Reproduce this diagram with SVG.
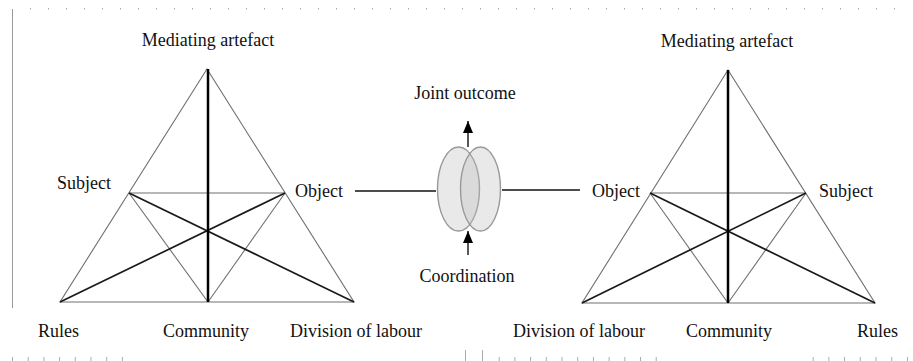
<svg xmlns="http://www.w3.org/2000/svg" width="913" height="361" viewBox="0 0 913 361">
<defs>
<style>
text{font-family:"Liberation Serif","Times New Roman",serif;font-size:18px;fill:#111}
.mid{text-anchor:middle}
.thin{stroke:#707070;stroke-width:1.1;fill:none}
.bold{stroke:#1a1a1a;stroke-width:1.7;fill:none}
.axis{stroke:#000;stroke-width:2.5;fill:none}
.conn{stroke:#111;stroke-width:1.4;fill:none}
.ell{fill:#bbb;fill-opacity:0.33;stroke:#999;stroke-width:1.4}
</style>
<marker id="arr" viewBox="0 0 12 10" refX="12" refY="5" markerWidth="12" markerHeight="10" markerUnits="userSpaceOnUse" orient="auto">
<path d="M0,0 L12,5 L0,10 z" fill="#000"/>
</marker>
<pattern id="topdots" x="30" y="0" width="18" height="20" patternUnits="userSpaceOnUse">
<rect x="0" y="8" width="1" height="1.5" fill="#aaa"/>
</pattern>
<pattern id="botticks" x="12" y="0" width="15.7" height="361" patternUnits="userSpaceOnUse">
<rect x="0" y="357" width="1" height="4" fill="#aaa"/>
</pattern>
</defs>
<rect width="913" height="361" fill="#fff"/>
<g id="page-marks">
<rect x="28" y="0" width="880" height="20" fill="url(#topdots)"/>
<rect x="10" y="350" width="120" height="11" fill="url(#botticks)"/>
<rect x="498" y="350" width="160" height="11" fill="url(#botticks)"/>
<rect x="805" y="350" width="108" height="11" fill="url(#botticks)"/>
<line x1="12.5" y1="9" x2="12.5" y2="308" stroke="#999" stroke-width="1"/>
<line x1="465.5" y1="350" x2="465.5" y2="361" stroke="#aaa" stroke-width="1"/>
<line x1="482.5" y1="350" x2="482.5" y2="361" stroke="#aaa" stroke-width="1"/>
</g>
<g id="left-triangle">
<polygon class="thin" points="207,69 60,302 354,302"/>
<line class="thin" x1="129" y1="193" x2="285" y2="193"/>
<line class="thin" x1="129" y1="193" x2="208" y2="302"/>
<line class="thin" x1="285" y1="193" x2="208" y2="302"/>
<line class="bold" x1="129" y1="193" x2="354" y2="302"/>
<line class="bold" x1="285" y1="193" x2="60" y2="302"/>
<line class="axis" x1="208" y1="69" x2="208" y2="302"/>
</g>
<g id="left-labels">
<text class="mid" x="208" y="46">Mediating artefact</text>
<text x="57" y="189">Subject</text>
<text x="295" y="197">Object</text>
<text x="38" y="337">Rules</text>
<text x="163" y="337">Community</text>
<text x="290" y="337">Division of labour</text>
</g>
<g id="right-triangle">
<polygon class="thin" points="728,70 582,303 875,303"/>
<line class="thin" x1="650" y1="193" x2="806" y2="193"/>
<line class="thin" x1="650" y1="193" x2="728" y2="303"/>
<line class="thin" x1="806" y1="193" x2="728" y2="303"/>
<line class="bold" x1="650" y1="193" x2="875" y2="303"/>
<line class="bold" x1="806" y1="193" x2="582" y2="303"/>
<line class="axis" x1="728" y1="70" x2="728" y2="303"/>
</g>
<g id="right-labels">
<text class="mid" x="727" y="47">Mediating artefact</text>
<text x="592" y="197">Object</text>
<text x="819" y="197">Subject</text>
<text x="513" y="337">Division of labour</text>
<text x="686" y="337">Community</text>
<text x="857" y="337">Rules</text>
</g>
<g id="coordination-node">
<ellipse class="ell" cx="458.5" cy="189" rx="21" ry="42"/>
<ellipse class="ell" cx="480.5" cy="189" rx="20" ry="42"/>
<text class="mid" x="465" y="99">Joint outcome</text>
<text class="mid" x="467" y="282">Coordination</text>
</g>
<g id="connectors">
<line class="conn" x1="355" y1="191" x2="436" y2="191"/>
<line class="conn" x1="502" y1="190" x2="580" y2="190"/>
<line class="conn" x1="468" y1="147" x2="468" y2="121" marker-end="url(#arr)"/>
<line class="conn" x1="468" y1="255" x2="468" y2="231" marker-end="url(#arr)"/>
</g>
</svg>
